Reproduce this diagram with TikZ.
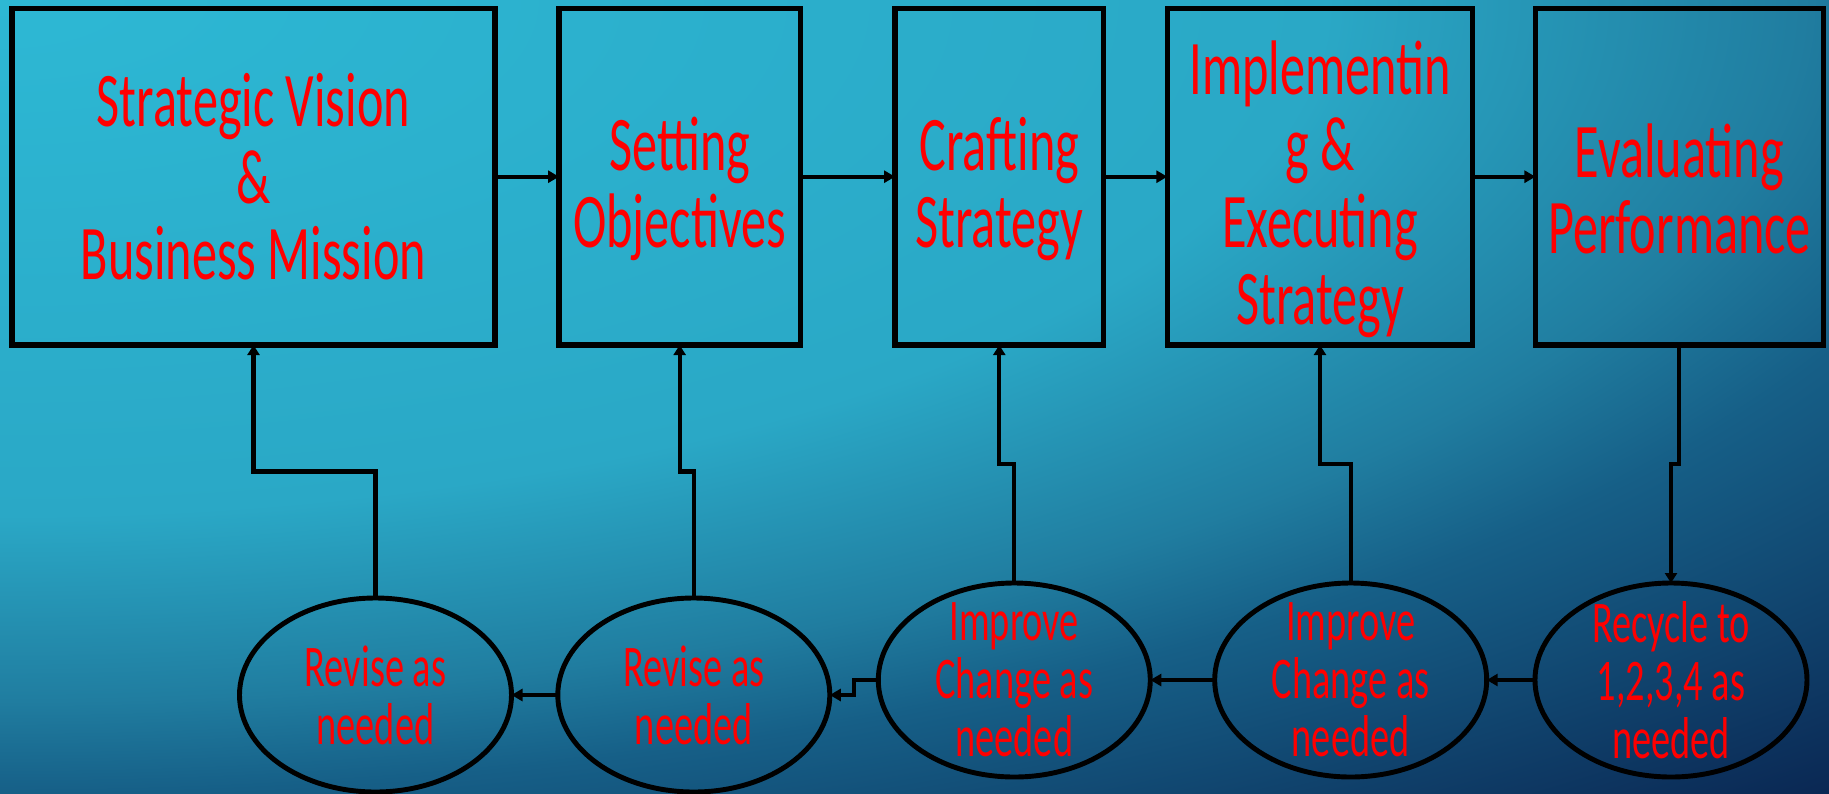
\documentclass[tikz,border=0pt]{standalone}
\usepackage{fontspec}
\newfontfamily\slidefont[FakeStretch=0.65]{Carlito}
\usepackage{tikz}
\usetikzlibrary{
  shapes.geometric,
  arrows.meta,
  positioning, calc
}
\definecolor{bgcyan}{RGB}{45,184,212}
\definecolor{bgteal}{RGB}{42,168,198}
\definecolor{bgmid}{RGB}{32,125,160}
\definecolor{bgdeep}{RGB}{22,95,135}
\definecolor{bgnavy}{RGB}{10,38,82}
\definecolor{slidered}{RGB}{255,0,0}
\pgfdeclareradialshading{slidebg}{\pgfpoint{0bp}{0bp}}{%
  color(0bp)=(bgcyan); color(8.33bp)=(bgteal); color(11.33bp)=(bgmid);
  color(12.83bp)=(bgdeep); color(17.33bp)=(bgnavy); color(50bp)=(bgnavy)}
\newcommand{\droptop}{\rule{0pt}{22.2pt}}
\tikzset{
  stagebox/.style={rectangle,draw=black,line width=1.5pt,outer sep=0pt,inner sep=0pt,
    align=center,text=slidered,font=\slidefont\fontsize{22}{21.8}\selectfont,
    minimum height=3.367cm},
  ovalnode/.style={ellipse,draw=black,line width=1.4pt,outer sep=0pt,
    minimum width=2.72cm,minimum height=1.94cm},
  ovaltext/.style={align=center,text=slidered,font=\slidefont\fontsize{16.8}{16.5}\selectfont},
  flowarr/.style={-{Triangle[length=0.11cm,width=0.12cm]},line width=1.2pt,color=black},
  backarr/.style={-{Triangle[length=0.1cm,width=0.12cm]},line width=1.15pt,color=black}
}

\begin{document}
\begin{tikzpicture}

  %% Background
  \useasboundingbox (0,0) rectangle (18.29,-7.93);
  \begin{scope}
    \clip (0,0) rectangle (18.29,-7.93);
    \shade[shading=slidebg] (0,0) ellipse (39.78cm and 15.465cm);
  \end{scope}

  %% Stage boxes
  \node[stagebox,minimum width=4.831cm] (vision) at (2.535,-1.767)
    {Strategic Vision\\\&\\Business Mission};
  \node[stagebox,right=0.64cm of vision,minimum width=2.412cm] (objectives)
    {\droptop Setting\\Objectives};
  \node[stagebox,right=0.948cm of objectives,minimum width=2.085cm] (crafting)
    {\droptop Crafting\\Strategy};
  \node[stagebox,right=0.638cm of crafting,minimum width=3.053cm] (executing)
    {\droptop Implementin\\g \&\\Executing\\Strategy};
  \node[stagebox,right=0.628cm of executing,minimum width=2.88cm] (evaluating)
    {\droptop Evaluating\\Performance};

  %% Feedback ovals
  \node[ovalnode,label={[ovaltext]center:Recycle to\\1,2,3,4 as\\needed}] (recycle)
    at (16.71,-6.8) {};
  \node[ovalnode,left=0.483cm of recycle,
        label={[ovaltext]center:Improve\\Change as\\needed}] (improveB) {};
  \node[ovalnode,left=0.644cm of improveB,
        label={[ovaltext]center:Improve\\Change as\\needed}] (improveA) {};
  \node[ovalnode,left=0.485cm of improveA,yshift=-0.15cm,
        label={[ovaltext]center:Revise as\\needed}] (reviseB) {};
  \node[ovalnode,left=0.463cm of reviseB,
        label={[ovaltext]center:Revise as\\needed}] (reviseA) {};

  %% Jog levels
  \coordinate (lowjog) at (0,-4.715);
  \coordinate (highjog) at (0,-4.64);

  %% ── ARROWS ──────────────────────────────────────────────
  %% stage → stage
  \draw[flowarr] (vision.east) -- (objectives.west);
  \draw[flowarr] (objectives.east) -- (crafting.west);
  \draw[flowarr] (crafting.east) -- (executing.west);
  \draw[flowarr] (executing.east) -- (evaluating.west);

  %% evaluating → recycle
  \draw[backarr] (evaluating.south) -- (evaluating.south |- highjog) -| (recycle.north);

  %% oval → oval
  \draw[flowarr] (recycle.west) -- (improveB.east);
  \draw[flowarr] (improveB.west) -- (improveA.east);
  \draw[flowarr] (improveA.west) -- ++(-0.245,0) |- (reviseB.east);
  \draw[flowarr] (reviseB.west) -- (reviseA.east);

  %% oval → stage
  \draw[backarr] (improveB.north) -- (improveB.north |- highjog) -| (executing.south);
  \draw[backarr] (improveA.north) -- (improveA.north |- highjog) -| (crafting.south);
  \draw[backarr] (reviseB.north) -- (reviseB.north |- lowjog) -| (objectives.south);
  \draw[backarr] (reviseA.north) -- (reviseA.north |- lowjog) -| (vision.south);

\end{tikzpicture}
\end{document}
